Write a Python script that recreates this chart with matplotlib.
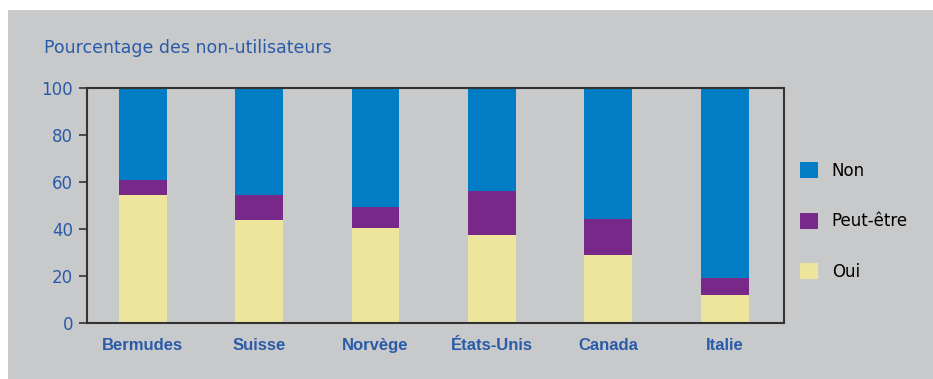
import matplotlib.pyplot as plt
import numpy as np
from matplotlib.patches import Rectangle

countries = ["Bermudes", "Suisse", "Norvège", "États-Unis", "Canada", "Italie"]
oui = [54.5, 43.8, 40.4, 37.4, 28.9, 11.9]
peut_etre = [6.4, 10.7, 9.0, 18.8, 15.4, 7.4]
non = [100 - o - p for o, p in zip(oui, peut_etre)]

series = [("Oui", oui, "#ede59b"), ("Peut-être", peut_etre, "#782888"), ("Non", non, "#007dc5")]

bg = "#c8c9cb"
blue_txt = "#2a5ba8"

W, H = 933, 379
fig = plt.figure(figsize=(W / 100, H / 100), dpi=100)
fig.patch.set_facecolor("white")
fig.add_artist(Rectangle((8 / W, 0), 1, 1 - 10 / H, transform=fig.transFigure,
                         facecolor=bg, edgecolor="none", zorder=-10))

ax = fig.add_axes([87 / W, 1 - 323 / H, (784 - 87) / W, (323 - 88) / H])
ax.set_facecolor(bg)

x = np.arange(len(countries))
bottom = np.zeros(len(countries))
handles = {}
for name, vals, color in series:
    handles[name] = ax.bar(x, vals, width=0.41, bottom=bottom, color=color, label=name)
    bottom += np.array(vals)

ax.set_xlim(-0.48, 5.51)
ax.set_ylim(0, 100)
ax.set_yticks(range(0, 101, 20))
ax.tick_params(axis="y", length=6, width=1.2, color="#333333", labelcolor=blue_txt,
               labelsize=12, pad=4)
ax.tick_params(axis="x", length=0, pad=11)
ax.set_xticks(x)
ax.set_xticklabels(countries, color=blue_txt, fontsize=12, fontweight="bold",
                   family="Liberation Sans")
for s in ax.spines.values():
    s.set_color("#333333")
    s.set_linewidth(1.5)

fig.text(44 / W, 1 - 48 / H, "Pourcentage des non-utilisateurs", color=blue_txt,
         fontsize=12.5, va="center", ha="left")

order = ["Non", "Peut-être", "Oui"]
leg = fig.legend([handles[n] for n in order], order, loc="upper left",
                 bbox_to_anchor=(785 / W, 1 - 147 / H), frameon=False,
                 fontsize=12, handlelength=1.1, handleheight=1.1,
                 labelspacing=1.95, handletextpad=0.8)

fig.savefig("out.png", dpi=100, facecolor=fig.get_facecolor())
